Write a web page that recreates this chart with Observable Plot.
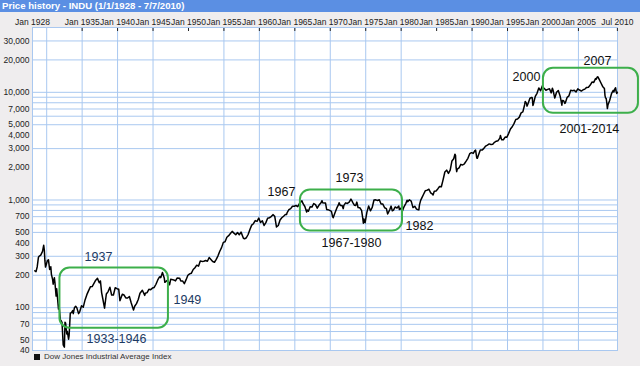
<!DOCTYPE html>
<html>
<head>
<meta charset="utf-8">
<script src="https://cdn.jsdelivr.net/npm/d3@7"></script>
<script src="https://cdn.jsdelivr.net/npm/@observablehq/plot@0.6"></script>
<style>
  html, body { margin: 0; padding: 0; background: #efedee; }
  #wrap { width: 640px; height: 366px; position: relative; overflow: hidden; background: #efedee; }
  #title { height: 12px; background: #5b8fe3; color: #fff; font: bold 9.6px "Liberation Sans", Arial, sans-serif; line-height: 11px; padding-left: 2px; white-space: nowrap; }
  #legend { height: 14px; font: 8px "Liberation Sans", Arial, sans-serif; color: #333; padding-left: 34px; line-height: 9px; white-space: nowrap; }
  #legend span.sw { display: inline-block; width: 6px; height: 6px; background: #111; margin-right: 4px; vertical-align: -1px; }
  svg { display: block; }
</style>
</head>
<body>
<div id="wrap">
  <div id="title">Price history - INDU (1/1/1928 - 7/7/2010)</div>
  <div id="chart"></div>
  <div id="legend"><span class="sw"></span>Dow Jones Industrial Average Index</div>
</div>
<script>
// ---- data: Dow Jones Industrial Average (approximate closes) ----
const dow1920s = [
  ["1928-05",220],["1928-07",216],["1928-09",240],["1928-11",293],["1928-12",300],
  ["1929-03",308],["1929-06",333],["1929-08",380],["1929-09",343],["1929-10",273],["1929-11",238],["1929-12",248]
];
const dow1930s = [
  ["1930-02",272],["1930-04",279],["1930-06",226],["1930-08",240],["1930-09",204],["1930-11",183],["1930-12",165],
  ["1931-02",190],["1931-03",172],["1931-05",128],["1931-06",150],["1931-09",97],["1931-10",105],["1931-12",78],
  ["1932-01",76],["1932-03",73],["1932-05",45],["1932-07",43],["1932-08",73],["1932-09",72],["1932-11",57],["1932-12",60],
  ["1933-02",51],["1933-03",55],["1933-05",89],["1933-07",90],["1933-09",94],["1933-10",88],["1933-12",100],
  ["1934-02",103],["1934-04",100],["1934-07",88],["1934-09",92],["1934-12",104],
  ["1935-03",101],["1935-06",118],["1935-09",132],["1935-12",144],
  ["1936-03",156],["1936-06",157],["1936-09",168],["1936-12",180],
  ["1937-03",187],["1937-06",170],["1937-08",177],["1937-10",138],["1937-12",121],
  ["1938-03",99],["1938-06",134],["1938-09",141],["1938-12",155],
  ["1939-03",131],["1939-06",131],["1939-09",153],["1939-12",150]
];
const dow1940s = [
  ["1940-03",148],["1940-05",116],["1940-09",133],["1940-12",131],
  ["1941-03",123],["1941-06",123],["1941-09",127],["1941-12",111],
  ["1942-04",95],["1942-06",103],["1942-09",109],["1942-12",119],
  ["1943-03",136],["1943-07",145],["1943-11",130],["1943-12",136],
  ["1944-03",138],["1944-06",148],["1944-09",147],["1944-12",152],
  ["1945-03",154],["1945-06",165],["1945-09",181],["1945-12",193],
  ["1946-02",190],["1946-05",212],["1946-08",189],["1946-09",172],["1946-12",177],
  ["1947-02",180],["1947-05",163],["1947-07",184],["1947-12",181],
  ["1948-03",177],["1948-06",189],["1948-10",188],["1948-12",177],
  ["1949-03",177],["1949-06",167],["1949-09",182],["1949-12",200]
];
const dow1950s = [
  ["1950-03",206],["1950-06",209],["1950-09",226],["1950-12",235],
  ["1951-03",248],["1951-06",243],["1951-09",271],["1951-12",269],
  ["1952-03",270],["1952-06",274],["1952-09",270],["1952-12",292],
  ["1953-03",280],["1953-06",268],["1953-09",264],["1953-12",281],
  ["1954-03",303],["1954-06",334],["1954-09",361],["1954-12",404],
  ["1955-03",409],["1955-06",451],["1955-09",466],["1955-12",488],
  ["1956-03",511],["1956-06",492],["1956-09",475],["1956-12",499],
  ["1957-03",475],["1957-06",503],["1957-09",456],["1957-10",441],["1957-12",436],
  ["1958-03",446],["1958-06",478],["1958-09",532],["1958-12",584],
  ["1959-03",602],["1959-06",644],["1959-09",632],["1959-12",679]
];
const dow1960s = [
  ["1960-03",617],["1960-06",641],["1960-09",580],["1960-12",616],
  ["1961-03",676],["1961-06",684],["1961-09",701],["1961-12",731],
  ["1962-03",707],["1962-06",561],["1962-09",579],["1962-12",652],
  ["1963-03",683],["1963-06",707],["1963-09",733],["1963-11",732],["1963-12",763],
  ["1964-03",813],["1964-06",832],["1964-09",875],["1964-12",874],
  ["1965-03",889],["1965-06",868],["1965-09",931],["1965-12",969],
  ["1966-01",983],["1966-03",924],["1966-06",870],["1966-09",774],["1966-10",807],["1966-12",786],
  ["1967-03",865],["1967-06",860],["1967-09",927],["1967-12",905],
  ["1968-03",840],["1968-06",898],["1968-09",936],["1968-11",985],["1968-12",944],
  ["1969-03",936],["1969-05",937],["1969-07",815],["1969-09",813],["1969-12",800]
];
const dow1970s = [
  ["1970-03",785],["1970-05",700],["1970-06",684],["1970-09",760],["1970-12",839],
  ["1971-03",904],["1971-04",941],["1971-06",891],["1971-09",887],["1971-11",831],["1971-12",890],
  ["1972-03",940],["1972-06",929],["1972-09",953],["1972-12",1020],
  ["1973-01",999],["1973-03",951],["1973-06",891],["1973-08",887],["1973-10",956],["1973-12",851],
  ["1974-03",847],["1974-06",802],["1974-08",679],["1974-09",608],["1974-10",666],["1974-11",619],["1974-12",616],
  ["1975-03",768],["1975-06",879],["1975-09",794],["1975-12",852],
  ["1976-03",999],["1976-06",1003],["1976-09",990],["1976-12",1004],
  ["1977-03",919],["1977-06",916],["1977-09",847],["1977-12",831],
  ["1978-02",742],["1978-03",757],["1978-06",819],["1978-08",877],["1978-10",793],["1978-12",805],
  ["1979-03",862],["1979-06",842],["1979-09",878],["1979-10",815],["1979-12",839]
];
const dow1980s = [
  ["1980-03",785],["1980-06",868],["1980-09",932],["1980-11",993],["1980-12",964],
  ["1981-03",1004],["1981-06",977],["1981-09",850],["1981-12",875],
  ["1982-03",823],["1982-06",812],["1982-07",809],["1982-08",901],["1982-10",992],["1982-12",1047],
  ["1983-03",1130],["1983-06",1222],["1983-09",1233],["1983-12",1259],
  ["1984-03",1165],["1984-06",1132],["1984-07",1115],["1984-09",1207],["1984-12",1212],
  ["1985-03",1267],["1985-06",1336],["1985-09",1328],["1985-12",1547],
  ["1986-03",1819],["1986-06",1893],["1986-09",1768],["1986-12",1896],
  ["1987-03",2305],["1987-06",2419],["1987-08",2663],["1987-09",2596],["1987-10",1994],["1987-11",1834],["1987-12",1939],
  ["1988-03",1989],["1988-06",2142],["1988-09",2113],["1988-12",2169],
  ["1989-03",2294],["1989-06",2440],["1989-09",2693],["1989-12",2753]
];
const dow1990s = [
  ["1990-03",2707],["1990-06",2881],["1990-07",2905],["1990-09",2453],["1990-10",2442],["1990-12",2634],
  ["1991-03",2914],["1991-06",2907],["1991-09",3017],["1991-12",3169],
  ["1992-03",3236],["1992-06",3319],["1992-09",3272],["1992-12",3301],
  ["1993-03",3436],["1993-06",3516],["1993-09",3555],["1993-12",3754],
  ["1994-01",3978],["1994-03",3636],["1994-06",3625],["1994-09",3843],["1994-12",3834],
  ["1995-03",4158],["1995-06",4556],["1995-09",4789],["1995-12",5117],
  ["1996-03",5587],["1996-06",5655],["1996-09",5882],["1996-12",6448],
  ["1997-03",6584],["1997-06",7673],["1997-07",8223],["1997-09",7945],["1997-10",7442],["1997-12",7908],
  ["1998-03",8800],["1998-06",8952],["1998-07",8883],["1998-08",7539],["1998-09",7843],["1998-12",9181],
  ["1999-03",9786],["1999-06",10971],["1999-09",10337],["1999-12",11497]
];
const dow2000s = [
  ["2000-01",10941],["2000-03",10922],["2000-06",10448],["2000-09",10651],["2000-12",10787],
  ["2001-03",9879],["2001-05",10912],["2001-06",10502],["2001-09",8848],["2001-12",10022],
  ["2002-03",10404],["2002-06",9243],["2002-07",8737],["2002-09",7592],["2002-10",8397],["2002-12",8342],
  ["2003-02",7891],["2003-03",7992],["2003-06",8985],["2003-09",9275],["2003-12",10454],
  ["2004-03",10358],["2004-06",10435],["2004-09",10080],["2004-12",10783],
  ["2005-03",10504],["2005-06",10275],["2005-09",10569],["2005-12",10718],
  ["2006-03",11109],["2006-06",11150],["2006-09",11679],["2006-12",12463],
  ["2007-03",12354],["2007-06",13409],["2007-07",13212],["2007-09",13896],["2007-10",13930],["2007-12",13265],
  ["2008-03",12263],["2008-06",11350],["2008-09",10851],["2008-10",9325],["2008-11",8829],["2008-12",8776],
  ["2009-01",8001],["2009-02",7063],["2009-03",7609],["2009-06",8447],["2009-09",9712],["2009-12",10428],
  ["2010-01",10067],["2010-03",10857],["2010-04",11009],["2010-05",10137],["2010-06",9774],["2010-07",10018]
];

// axis ticks and labels
const xTickDates  = ["1928-01-01","1935-01-01","1940-01-01","1945-01-01","1950-01-01","1955-01-01","1960-01-01","1965-01-01","1970-01-01","1975-01-01","1980-01-01","1985-01-01","1990-01-01","1995-01-01","2000-01-01","2005-01-01","2010-07-01"];
const xTickLabels = ["Jan 1928","Jan 1935","Jan 1940","Jan 1945","Jan 1950","Jan 1955","Jan 1960","Jan 1965","Jan 1970","Jan 1975","Jan 1980","Jan 1985","Jan 1990","Jan 1995","Jan 2000","Jan 2005","Jul 2010"];
const xGridDates  = ["1930-01-01","1935-01-01","1940-01-01","1945-01-01","1955-01-01","1960-01-01","1965-01-01","1970-01-01","1975-01-01","1980-01-01","1990-01-01","1995-01-01","2000-01-01","2005-01-01"];
const yTickValues = [40,50,70,100,200,300,400,500,700,1000,2000,3000,4000,5000,7000,10000,20000,30000];
const yGridValues = [50,60,70,80,90,100,200,300,500,600,700,800,900,1000,3000,5000,6000,7000,8000,9000,10000,20000,30000];

// annotations (data coordinates)
const boxStarts = ["1931-11-15","1965-10-15","2000-01-25"];
const boxEnds   = ["1947-03-05","1980-03-10","2013-06-20"];
const boxLows   = [64.5, 515, 6380];
const boxHighs  = [233, 1239, 16720];
const labelTexts  = ["1937","1949","1933-1946","1967","1973","1982","1967-1980","2000","2007","2001-2014"];
const labelDates  = ["1937-04-20","1947-11-20","1939-11-05","1963-02-15","1972-09-15","1982-07-30","1972-12-30","1997-09-05","2007-09-10","2006-07-20"];
const labelValues = [298, 117, 51.5, 1187, 1602, 579, 398, 13790, 19420, 4529];
const labelColors = ["#1d3a63","#1d3a63","#1d3a63","#111","#111","#111","#111","#111","#111","#111"];
const labelStartAligned = ["1949"];

// ---- build tables ----
const parse = d3.utcParse("%Y-%m");
const series = [dow1920s, dow1930s, dow1940s, dow1950s, dow1960s, dow1970s, dow1980s, dow1990s, dow2000s]
  .flat().map(([d, v]) => ({date: parse(d), value: v}));
const iso = d3.utcParse("%Y-%m-%d");
const xTicks = xTickDates.map(iso);
const labelMap = new Map(xTickDates.map((d, i) => [+iso(d), xTickLabels[i]]));
const boxes = boxStarts.map((s, i) => ({x1: iso(s), x2: iso(boxEnds[i]), y1: boxLows[i], y2: boxHighs[i]}));
const labels = labelTexts.map((t, i) => ({text: t, date: iso(labelDates[i]), value: labelValues[i], color: labelColors[i]}));
const labelsMid = labels.filter(d => !labelStartAligned.includes(d.text));
const labelsStart = labels.filter(d => labelStartAligned.includes(d.text));

const grid = "#a9c8f0";
const chart = Plot.plot({
  width: 640,
  height: 340,
  marginTop: 15,
  marginLeft: 32,
  marginRight: 23,
  marginBottom: 2,
  style: {background: "transparent", fontFamily: "'Liberation Sans', Arial, sans-serif", overflow: "visible"},
  x: {type: "utc", domain: [iso("1928-01-01"), iso("2010-07-07")]},
  y: {type: "log", domain: [40, 40000]},
  marks: [
    Plot.frame({fill: "#fff", stroke: "none"}),
    Plot.gridX(xGridDates.map(iso), {stroke: grid, strokeOpacity: 1}),
    Plot.gridY(yGridValues, {stroke: grid, strokeOpacity: 1}),
    Plot.frame({stroke: grid}),
    Plot.axisX({anchor: "top", ticks: xTicks.slice(1), tickSize: 3, dy: 3, text: null, stroke: "#222"}),
    Plot.axisX({anchor: "top", ticks: xTicks, tickSize: 0, tickPadding: 3, fontSize: 8.5, fill: "#222",
      tickFormat: d => labelMap.get(+d), label: null}),
    Plot.axisY({ticks: [], label: null}),
    Plot.text(yTickValues, {y: d => d, text: d => d3.format(",")(d), frameAnchor: "left", textAnchor: "end",
      dx: -3, fontSize: 8.5, fill: "#222"}),
    Plot.line(series, {x: "date", y: "value", stroke: "#000", strokeWidth: 1.5, curve: "linear"}),
    Plot.rect(boxes, {x1: "x1", x2: "x2", y1: "y1", y2: "y2", fill: "none", stroke: "#3daf4b", strokeWidth: 2, rx: 10, ry: 10}),
    Plot.text(labelsMid, {x: "date", y: "value", text: "text", fill: "color", textAnchor: "middle", fontSize: 12.5, lineAnchor: "middle"}),
    Plot.text(labelsStart, {x: "date", y: "value", text: "text", fill: "color", textAnchor: "start", fontSize: 12.5, lineAnchor: "middle"})
  ]
});
document.getElementById("chart").append(chart);
</script>
</body>
</html>
